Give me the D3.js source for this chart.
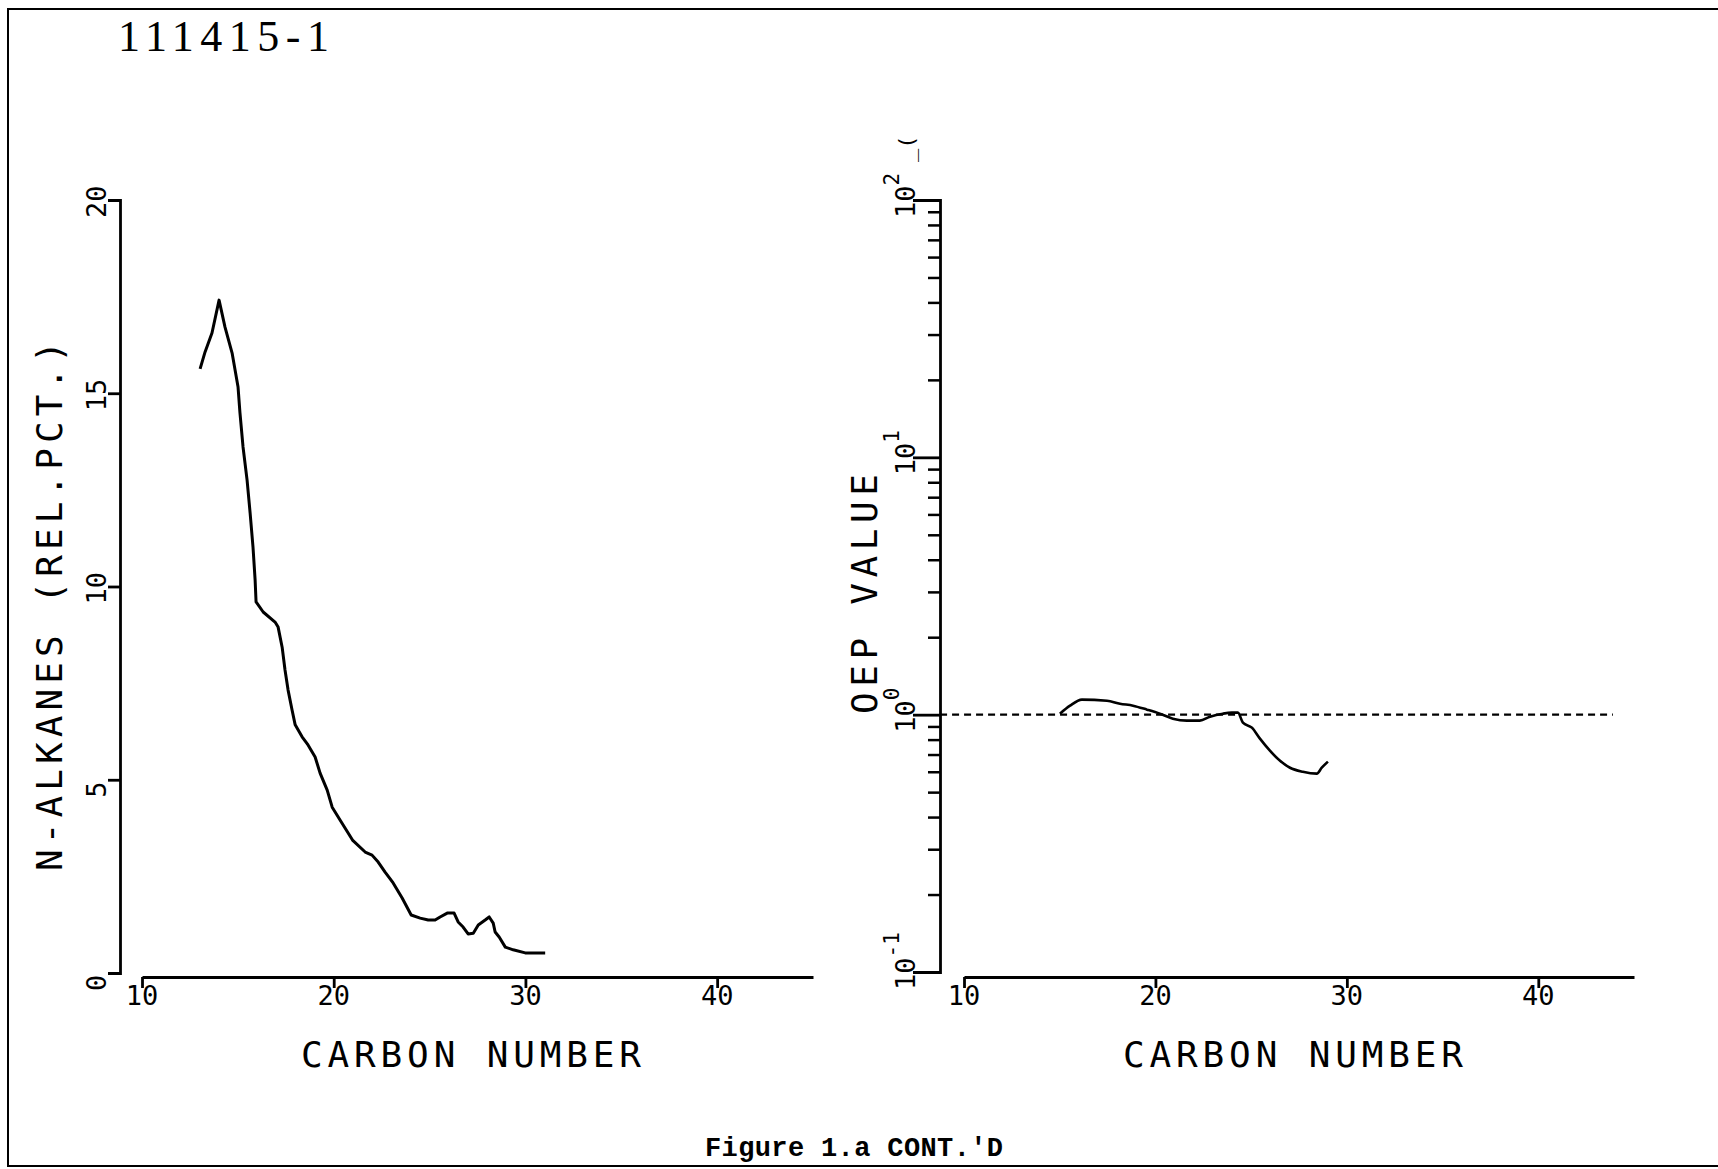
<!DOCTYPE html>
<html>
<head>
<meta charset="utf-8">
<script src="https://cdnjs.cloudflare.com/ajax/libs/d3/7.8.5/d3.min.js"></script>
<style>
  html, body { margin: 0; padding: 0; background: #fff; }
  svg { display: block; }
</style>
</head>
<body>
<script>
// ---------------- DATA ----------------
const sampleId = "111415-1";
const caption = "Figure 1.a CONT.'D";
const xTitle = "CARBON NUMBER";
const leftYTitle = "N-ALKANES (REL.PCT.)";
const rightYTitle = "OEP VALUE";

const xTicks = [10, 20, 30, 40];
const leftYTicks = [0, 5, 10, 15, 20];
const rightYMajor = [0.1, 1, 10, 100];
const rightYMajorExp = ["-1", "0", "1", "2"];
const rightYMinorMult = [2, 3, 4, 5, 6, 7, 8, 9];

// n-alkane distribution (relative percent) vs carbon number
const alkCarbon = [13.03, 13.29, 13.65, 14.02, 14.33, 14.70, 15.01, 15.11, 15.27, 15.48,
  15.64, 15.79, 15.90, 15.95, 16.32, 16.94, 17.10, 17.31, 17.46, 17.62,
  17.83, 17.99, 18.35, 18.66, 19.03, 19.29, 19.66, 19.92, 20.33, 20.98,
  21.64, 22.00, 22.32, 22.68, 23.10, 23.57, 24.04, 24.51, 24.93, 25.29,
  25.55, 25.92, 26.28, 26.49, 26.75, 27.01, 27.28, 27.54, 27.90, 28.11,
  28.32, 28.42, 28.63, 28.95, 29.36, 29.99, 31.03];
const alkPct = [15.63, 16.07, 16.56, 17.41, 16.71, 16.04, 15.16, 14.49, 13.61, 12.76,
  11.90, 11.02, 10.17, 9.60, 9.34, 9.08, 8.95, 8.43, 7.84, 7.32,
  6.80, 6.42, 6.11, 5.90, 5.59, 5.17, 4.73, 4.29, 3.96, 3.44,
  3.13, 3.05, 2.87, 2.61, 2.33, 1.94, 1.50, 1.42, 1.37, 1.37,
  1.45, 1.55, 1.55, 1.32, 1.19, 1.01, 1.03, 1.24, 1.37, 1.45,
  1.29, 1.06, 0.93, 0.67, 0.60, 0.52, 0.52];

// OEP value vs carbon number
const oepCarbon = [15.01, 15.54, 16.16, 17.47, 18.15, 18.83, 19.56, 20.23, 20.91, 21.64,
  22.32, 22.85, 23.52, 23.99, 24.31, 24.57, 25.04, 25.46, 25.98, 26.51,
  27.03, 27.70, 28.43, 28.69, 29.01];
const oepValue = [1.009, 1.084, 1.144, 1.133, 1.103, 1.084, 1.046, 1.009, 0.965, 0.948,
  0.948, 0.982, 1.009, 1.018, 1.018, 0.931, 0.890, 0.807, 0.725, 0.662,
  0.622, 0.600, 0.590, 0.622, 0.657];

// reference line OEP = 1
const refCarbon = [8.75, 43.9];
const refValue = [1, 1];

// ---------------- DRAW ----------------
const W = 1718, H = 1169;
const svg = d3.select("body").append("svg").attr("width", W).attr("height", H);
const plotFont = "'DejaVu Sans Mono', monospace";

// page frame (left, top, bottom)
svg.append("path")
  .attr("d", "M1718,9H8V1166H1718")
  .attr("fill", "none").attr("stroke", "#000").attr("stroke-width", 2);

// sample id
svg.append("text").attr("x", 118).attr("y", 51)
  .attr("font-family", "'Liberation Serif', serif").attr("font-size", 44)
  .attr("textLength", 211).attr("lengthAdjust", "spacing")
  .text(sampleId);

// caption
svg.append("text").attr("x", 705).attr("y", 1156)
  .attr("font-family", "'Liberation Mono', monospace").attr("font-weight", "bold").attr("font-size", 27)
  .attr("textLength", 298).attr("lengthAdjust", "spacing")
  .text(caption);

function styleAxis(g, w) {
  g.selectAll("path, line").attr("stroke", "#000").attr("stroke-width", w);
  g.select(".domain").attr("fill", "none");
}

function rotLabel(x, y, txt, size, len) {
  const t = svg.append("text")
    .attr("transform", `translate(${x},${y}) rotate(-90)`)
    .attr("font-family", plotFont).attr("font-size", size)
    .text(txt);
  if (len) t.attr("textLength", len).attr("lengthAdjust", "spacing");
  return t;
}

// ===== LEFT PANEL =====
const xL = d3.scaleLinear().domain([10, 45]).range([142, 813]);
const yL = d3.scaleLinear().domain([0, 20]).range([973, 200]);

const gyL = svg.append("g").attr("transform", "translate(120,0)")
  .call(d3.axisLeft(yL).tickValues(leftYTicks).tickSize(12).tickSizeOuter(12).tickFormat(""));
styleAxis(gyL, 2.8);

const gxL = svg.append("g").attr("transform", "translate(0,977)")
  .call(d3.axisBottom(xL).tickValues(xTicks).tickSize(11).tickSizeOuter(0).tickFormat(""));
styleAxis(gxL, 2.8);

leftYTicks.forEach(v => rotLabel(106, yL(v) + 18, String(v), 27));
xTicks.forEach(v => {
  svg.append("text").attr("x", xL(v)).attr("y", 1005)
    .attr("text-anchor", "middle").attr("font-family", plotFont).attr("font-size", 27)
    .text(String(v));
});
rotLabel(62, 871, leftYTitle, 36, 530);
svg.append("text").attr("x", 301).attr("y", 1067)
  .attr("font-family", plotFont).attr("font-size", 36)
  .attr("textLength", 340).attr("lengthAdjust", "spacing").text(xTitle);

const alkData = alkCarbon.map((c, i) => ({ c, v: alkPct[i] }));
svg.append("path").datum(alkData)
  .attr("fill", "none").attr("stroke", "#000").attr("stroke-width", 3)
  .attr("stroke-linejoin", "round")
  .attr("d", d3.line().x(d => xL(d.c)).y(d => yL(d.v)));

// ===== RIGHT PANEL =====
const xR = d3.scaleLinear().domain([10, 45]).range([964, 1634]);
const yR = d3.scaleLog().domain([0.1, 100]).range([972, 200]);

const minorTicks = [];
[0.1, 1, 10].forEach(d => rightYMinorMult.forEach(m => minorTicks.push(d * m)));

const gyRm = svg.append("g").attr("transform", "translate(940,0)")
  .call(d3.axisLeft(yR).tickValues(minorTicks).tickSize(12).tickSizeOuter(0).tickFormat(""));
gyRm.select(".domain").remove();
styleAxis(gyRm, 2.5);

const gyR = svg.append("g").attr("transform", "translate(940,0)")
  .call(d3.axisLeft(yR).tickValues(rightYMajor).tickSize(27).tickSizeOuter(27).tickFormat(""));
styleAxis(gyR, 2.8);

const gxR = svg.append("g").attr("transform", "translate(0,977)")
  .call(d3.axisBottom(xR).tickValues(xTicks).tickSize(11).tickSizeOuter(0).tickFormat(""));
styleAxis(gxR, 2.8);

rightYMajor.forEach((v, i) => {
  const t = rotLabel(915, yR(v) + 18, "10", 27);
  t.append("tspan").attr("font-size", 21).attr("dy", -16).text(rightYMajorExp[i]);
});
// stray marks near the top label
rotLabel(914, 162, "_(", 22);

xTicks.forEach(v => {
  svg.append("text").attr("x", xR(v)).attr("y", 1005)
    .attr("text-anchor", "middle").attr("font-family", plotFont).attr("font-size", 27)
    .text(String(v));
});
rotLabel(877, 714, rightYTitle, 36, 240);
svg.append("text").attr("x", 1123).attr("y", 1067)
  .attr("font-family", plotFont).attr("font-size", 36)
  .attr("textLength", 340).attr("lengthAdjust", "spacing").text(xTitle);

// reference dashed line
const refData = refCarbon.map((c, i) => ({ c, v: refValue[i] }));
svg.append("path").datum(refData)
  .attr("fill", "none").attr("stroke", "#000").attr("stroke-width", 2.2)
  .attr("stroke-dasharray", "7,5")
  .attr("d", d3.line().x(d => xR(d.c)).y(d => yR(d.v)));

const oepData = oepCarbon.map((c, i) => ({ c, v: oepValue[i] }));
svg.append("path").datum(oepData)
  .attr("fill", "none").attr("stroke", "#000").attr("stroke-width", 2.6)
  .attr("stroke-linejoin", "round")
  .attr("d", d3.line().curve(d3.curveMonotoneX).x(d => xR(d.c)).y(d => yR(d.v)));
</script>
</body>
</html>
